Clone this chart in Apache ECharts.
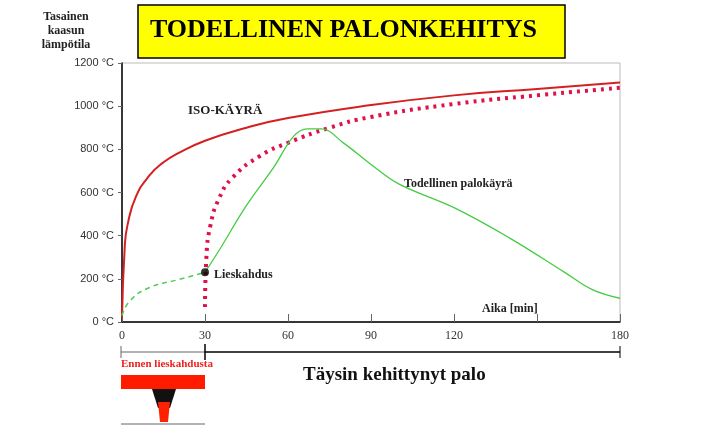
<!DOCTYPE html>
<html><head><meta charset="utf-8">
<script src="https://cdn.jsdelivr.net/npm/echarts@6/dist/echarts.min.js"></script>
<style>html,body{margin:0;background:#fff}#c{width:713px;height:436px}</style>
</head><body><div id="c"></div>
<script>
const isoCurve = [[0,20],[1,350],[2,450],[5,580],[10,680],[15,740],[20,780],[30,840],[45,900],[60,945],[90,1005],[120,1050],[150,1080],[180,1110]];
const postFlashover = [[30,70],[30.5,300],[32,450],[35,570],[40,670],[50,770],[60,830],[75,900],[90,950],[120,1010],[150,1050],[180,1085]];
const preFlashover = [[0,30],[3,100],[10,160],[20,195],[30,230]];
const realFire = [[30,230],[35,330],[45,540],[55,720],[62,860],[67,895],[72,895],[80,830],[90,730],[100,640],[120,530],[140,390],[160,230],[170,150],[180,110]];
const flashoverPoint = [[30,230]];
const xTicks = [0,30,60,90,120,180];
const ch = echarts.init(document.getElementById('c'));
const serif = 'Liberation Serif';
ch.setOption({
  animation:false,
  grid:{left:122,right:93,top:63,bottom:114,show:true,borderColor:'#bbb',borderWidth:1},
  xAxis:{type:'value',min:0,max:180,interval:30,
    axisLine:{lineStyle:{color:'#000',width:1.5}},
    axisTick:{inside:true,length:8,lineStyle:{color:'#666'}},
    splitLine:{show:false},
    axisLabel:{color:'#333',fontFamily:serif,fontSize:12,formatter:v=>xTicks.includes(v)?String(v):''}},
  yAxis:{type:'value',min:0,max:1200,interval:200,
    axisLine:{show:true,lineStyle:{color:'#000',width:1.5}},
    axisTick:{show:true,length:4,lineStyle:{color:'#666'}},
    splitLine:{show:false},
    axisLabel:{color:'#333',fontFamily:'Liberation Sans',fontSize:11,formatter:v=>v+' °C'}},
  series:[
    {type:'line',data:isoCurve,smooth:true,symbol:'none',lineStyle:{color:'#d42020',width:2}},
    {type:'line',data:postFlashover,smooth:true,symbol:'none',lineStyle:{color:'#e0104a',width:4,type:[3,5]}},
    {type:'line',data:preFlashover,smooth:true,symbol:'none',lineStyle:{color:'#55cc55',width:1.5,type:[5,4]}},
    {type:'line',data:realFire,smooth:0.4,symbol:'none',lineStyle:{color:'#44cc44',width:1.3}},
    {type:'scatter',data:flashoverPoint,symbolSize:8,itemStyle:{color:'#000'},z:5}
  ],
  graphic:[
    {type:'rect',shape:{x:138,y:5,width:427,height:53},style:{fill:'#ffff00',stroke:'#000',lineWidth:1.5}},
    {type:'text',left:150,top:17,style:{text:'TODELLINEN PALONKEHITYS',font:'bold 26px "Liberation Serif"',fill:'#000'}},
    {type:'text',x:66,y:10,style:{text:'Tasainen\nkaasun\nlämpötila',font:'bold 12px "Liberation Serif"',fill:'#222',lineHeight:14,align:'center'}},
    {type:'text',left:188,top:104,style:{text:'ISO-KÄYRÄ',font:'bold 13px "Liberation Serif"',fill:'#222'}},
    {type:'text',left:404,top:178,style:{text:'Todellinen palokäyrä',font:'bold 12px "Liberation Serif"',fill:'#222'}},
    {type:'text',left:214,top:269,style:{text:'Lieskahdus',font:'bold 12px "Liberation Serif"',fill:'#222'}},
    {type:'text',left:482,top:303,style:{text:'Aika [min]',font:'bold 12px "Liberation Serif"',fill:'#222'}},
    {type:'line',shape:{x1:121,y1:352,x2:205,y2:352},style:{stroke:'#666',lineWidth:1}},
    {type:'line',shape:{x1:205,y1:352,x2:620,y2:352},style:{stroke:'#000',lineWidth:1.5}},
    {type:'line',shape:{x1:121,y1:346,x2:121,y2:358},style:{stroke:'#666',lineWidth:1}},
    {type:'line',shape:{x1:205,y1:344,x2:205,y2:360},style:{stroke:'#000',lineWidth:1.5}},
    {type:'line',shape:{x1:620,y1:346,x2:620,y2:358},style:{stroke:'#000',lineWidth:1}},
    {type:'text',left:121,top:359,style:{text:'Ennen lieskahdusta',font:'bold 11px "Liberation Serif"',fill:'#ee2020'}},
    {type:'text',left:303,top:366,style:{text:'Täysin kehittynyt palo',font:'bold 19px "Liberation Serif"',fill:'#111'}},
    {type:'rect',shape:{x:121,y:375,width:84,height:14},style:{fill:'#ff1a00'}},
    {type:'polygon',shape:{points:[[152,389],[176,389],[170,408],[158,408]]},style:{fill:'#111'}},
    {type:'polygon',shape:{points:[[158,402],[170,402],[168,422],[160,422]]},style:{fill:'#ff2200'}},
    {type:'line',shape:{x1:121,y1:424,x2:205,y2:424},style:{stroke:'#666',lineWidth:1}}
  ]
});
</script></body></html>
